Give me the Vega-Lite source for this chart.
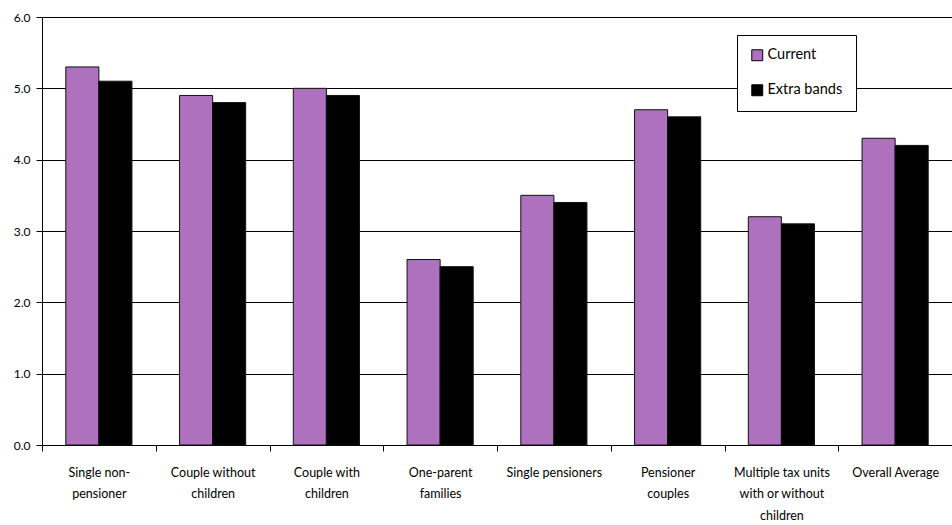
{
  "$schema": "https://vega.github.io/schema/vega-lite/v6.json",
  "width": 910,
  "height": 428,
  "autosize": {"type": "none"},
  "padding": {"left": 42, "top": 17, "right": 0, "bottom": 80},
  "background": "white",
  "config": {
    "view": {"stroke": null},
    "font": "Lato"
  },
  "data": {
    "values": [
      {"cat": "Single non-|pensioner", "series": "Current", "v": 5.3},
      {"cat": "Single non-|pensioner", "series": "Extra bands", "v": 5.1},
      {"cat": "Couple without|children", "series": "Current", "v": 4.9},
      {"cat": "Couple without|children", "series": "Extra bands", "v": 4.8},
      {"cat": "Couple with|children", "series": "Current", "v": 5.0},
      {"cat": "Couple with|children", "series": "Extra bands", "v": 4.9},
      {"cat": "One-parent|families", "series": "Current", "v": 2.6},
      {"cat": "One-parent|families", "series": "Extra bands", "v": 2.5},
      {"cat": "Single pensioners", "series": "Current", "v": 3.5},
      {"cat": "Single pensioners", "series": "Extra bands", "v": 3.4},
      {"cat": "Pensioner|couples", "series": "Current", "v": 4.7},
      {"cat": "Pensioner|couples", "series": "Extra bands", "v": 4.6},
      {"cat": "Multiple tax units|with or without|children", "series": "Current", "v": 3.2},
      {"cat": "Multiple tax units|with or without|children", "series": "Extra bands", "v": 3.1},
      {"cat": "Overall Average", "series": "Current", "v": 4.3},
      {"cat": "Overall Average", "series": "Extra bands", "v": 4.2}
    ]
  },
  "mark": {"type": "bar", "stroke": "#111111", "strokeWidth": 1},
  "encoding": {
    "x": {
      "field": "cat",
      "type": "nominal",
      "sort": null,
      "scale": {"paddingInner": 0, "paddingOuter": 0},
      "axis": {
        "title": null,
        "labelAngle": 0,
        "labelExpr": "datum.value ? split(datum.value, '|') : ''",
        "labelLineHeight": 21.5,
        "labelFontSize": 12.5,
        "labelColor": "#000000",
        "labelPadding": 15,
        "labelBaseline": "top",
        "tickBand": "extent",
        "tickSize": 6,
        "tickColor": "#000000",
        "domainColor": "#000000",
        "grid": false
      }
    },
    "xOffset": {
      "field": "series",
      "type": "nominal",
      "scale": {"paddingInner": 0, "paddingOuter": 0.72}
    },
    "y": {
      "field": "v",
      "type": "quantitative",
      "scale": {"domain": [0, 6], "nice": false},
      "axis": {
        "title": null,
        "values": [0, 1, 2, 3, 4, 5, 6],
        "format": ".1f",
        "labelFontSize": 12,
        "labelColor": "#000000",
        "labelPadding": 6,
        "tickSize": 6,
        "tickColor": "#000000",
        "domainColor": "#000000",
        "gridColor": "#000000",
        "gridOpacity": 1,
        "gridWidth": 1
      }
    },
    "color": {
      "field": "series",
      "type": "nominal",
      "scale": {"domain": ["Current", "Extra bands"], "range": ["#AD71BE", "#000000"]},
      "legend": {
        "title": null,
        "orient": "none",
        "legendX": 695,
        "legendY": 18,
        "fillColor": "white",
        "strokeColor": "#000000",
        "padding": 13,
        "symbolType": "square",
        "symbolSize": 120,
        "symbolStrokeColor": "#000000",
        "symbolStrokeWidth": 1,
        "labelFontSize": 14.5,
        "labelColor": "#000000",
        "rowPadding": 19,
        "labelOffset": 3
      }
    }
  }
}
